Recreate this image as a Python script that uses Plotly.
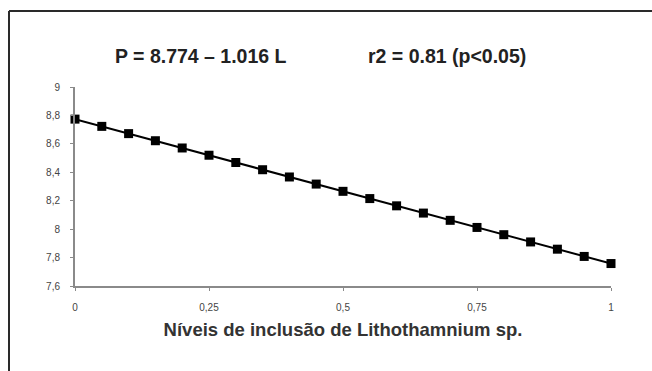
import plotly.graph_objects as go

# Inclusion levels of Lithothamnium sp. and fitted response P
niveis = [0.00, 0.05, 0.10, 0.15, 0.20, 0.25, 0.30, 0.35, 0.40, 0.45, 0.50,
          0.55, 0.60, 0.65, 0.70, 0.75, 0.80, 0.85, 0.90, 0.95, 1.00]
p_valores = [8.774, 8.723, 8.672, 8.622, 8.571, 8.520, 8.469, 8.418, 8.367,
             8.317, 8.266, 8.215, 8.164, 8.113, 8.062, 8.012, 7.961, 7.910,
             7.859, 7.808, 7.758]

x_ticks = [0, 0.25, 0.5, 0.75, 1]
y_ticks = [7.6, 7.8, 8.0, 8.2, 8.4, 8.6, 8.8, 9.0]

W, H = 652, 371
L, R, T, B = 75, 41, 87, 85

fig = go.Figure()
fig.add_trace(go.Scatter(
    x=niveis, y=p_valores, mode="lines+markers",
    line=dict(color="black", width=2),
    marker=dict(symbol="square", size=9, color="black"),
    cliponaxis=False, showlegend=False, hoverinfo="x+y",
))

axis_common = dict(
    showgrid=False, zeroline=False, showline=True,
    linecolor="#8a8a8a", linewidth=2,
    ticks="outside", ticklen=3, tickcolor="#8a8a8a", tickwidth=1,
    tickfont=dict(family="Liberation Sans, Arial", size=10, color="#444"),
)

fig.update_xaxes(range=[0, 1], tickvals=x_ticks, ticklabelstandoff=8,
                 title=dict(text="<b>Níveis de inclusão de Lithothamnium sp.</b>",
                            font=dict(family="Liberation Sans, Arial", size=18.5,
                                      color="#333"),
                            standoff=11),
                 **axis_common)
fig.update_yaxes(range=[7.6, 9.0], tickvals=y_ticks, ticklabelstandoff=8,
                 **axis_common)

def px_x(px):
    return (px - L) / (W - L - R)

def px_y(py):
    return (H - B - py) / (H - T - B)

title_font = dict(family="Liberation Sans, Arial", size=19.5, color="#222")
fig.add_annotation(text="<b>P = 8.774 – 1.016 L</b>", x=px_x(201), y=px_y(56),
                   xref="paper", yref="paper", xanchor="center", yanchor="middle",
                   showarrow=False, font=title_font)
fig.add_annotation(text="<b>r2 = 0.81 (p&lt;0.05)</b>", x=px_x(447), y=px_y(56),
                   xref="paper", yref="paper", xanchor="center", yanchor="middle",
                   showarrow=False, font=title_font)

# frame lines along the top and left edges
frame = dict(color="#2a2a2a", width=2)
fig.add_shape(type="line", xref="paper", yref="paper",
              x0=px_x(9), x1=px_x(653), y0=px_y(11), y1=px_y(11), line=frame)
fig.add_shape(type="line", xref="paper", yref="paper",
              x0=px_x(9), x1=px_x(9), y0=px_y(11), y1=px_y(372), line=frame)

fig.update_layout(
    width=W, height=H,
    margin=dict(l=L, r=R, t=T, b=B),
    paper_bgcolor="white", plot_bgcolor="white",
    separators=",.",
)

fig.write_html("out.html")
